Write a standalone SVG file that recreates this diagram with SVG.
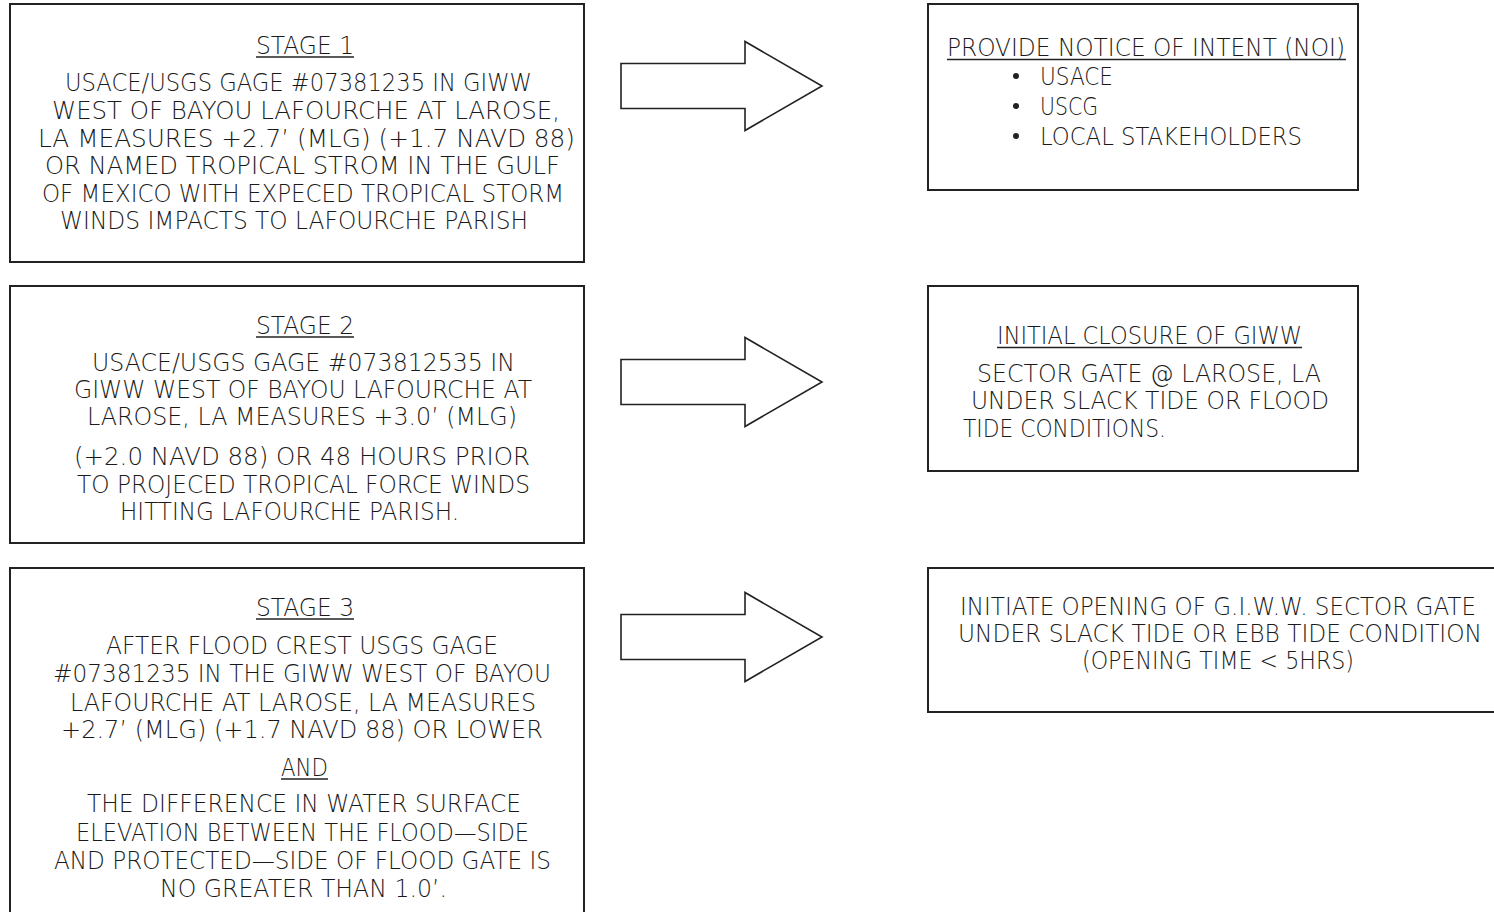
<svg xmlns="http://www.w3.org/2000/svg" width="1494" height="912" viewBox="0 0 1494 912">
<style>
.box{fill:#fff;stroke:#222;stroke-width:2}
.arr{fill:#fff;stroke:#222;stroke-width:1.6;stroke-linejoin:miter}
.t{font-family:"DejaVu Sans","Liberation Sans",Arial,sans-serif;font-weight:200;font-size:24px;fill:#1a1a1a}
.ul{stroke:#222;stroke-width:1.4}
.dot{fill:#222}
</style>
<rect width="1494" height="912" fill="#fff"/>
<g id="stage1">
<rect class="box" x="10" y="4" width="574" height="258"/>
<text class="t" x="256" y="53.5" textLength="98" lengthAdjust="spacingAndGlyphs">STAGE 1</text>
<line class="ul" x1="256" y1="57" x2="354" y2="57"/>
<text class="t" x="65" y="90.5" textLength="467" lengthAdjust="spacingAndGlyphs">USACE/USGS GAGE #07381235 IN GIWW</text>
<text class="t" x="52" y="118.5" textLength="508" lengthAdjust="spacingAndGlyphs">WEST OF BAYOU LAFOURCHE AT LAROSE,</text>
<text class="t" x="38" y="146.5" textLength="537" lengthAdjust="spacingAndGlyphs">LA MEASURES +2.7’ (MLG) (+1.7 NAVD 88)</text>
<text class="t" x="45" y="174" textLength="515" lengthAdjust="spacingAndGlyphs">OR NAMED TROPICAL STROM IN THE GULF</text>
<text class="t" x="42" y="201.5" textLength="522" lengthAdjust="spacingAndGlyphs">OF MEXICO WITH EXPECED TROPICAL STORM</text>
<text class="t" x="60" y="229" textLength="468" lengthAdjust="spacingAndGlyphs">WINDS IMPACTS TO LAFOURCHE PARISH</text>
</g>
<g id="stage2">
<rect class="box" x="10" y="286" width="574" height="257"/>
<text class="t" x="256" y="333.5" textLength="98" lengthAdjust="spacingAndGlyphs">STAGE 2</text>
<line class="ul" x1="256" y1="337" x2="354" y2="337"/>
<text class="t" x="92" y="371" textLength="423" lengthAdjust="spacingAndGlyphs">USACE/USGS GAGE #073812535 IN</text>
<text class="t" x="74" y="398" textLength="458" lengthAdjust="spacingAndGlyphs">GIWW WEST OF BAYOU LAFOURCHE AT</text>
<text class="t" x="87" y="425" textLength="430" lengthAdjust="spacingAndGlyphs">LAROSE, LA MEASURES +3.0’ (MLG)</text>
<text class="t" x="74" y="465" textLength="456" lengthAdjust="spacingAndGlyphs">(+2.0 NAVD 88) OR 48 HOURS PRIOR</text>
<text class="t" x="77" y="493" textLength="453" lengthAdjust="spacingAndGlyphs">TO PROJECED TROPICAL FORCE WINDS</text>
<text class="t" x="120" y="520" textLength="339" lengthAdjust="spacingAndGlyphs">HITTING LAFOURCHE PARISH.</text>
</g>
<g id="stage3">
<rect class="box" x="10" y="568" width="574" height="360"/>
<text class="t" x="256" y="615.5" textLength="98" lengthAdjust="spacingAndGlyphs">STAGE 3</text>
<line class="ul" x1="256" y1="619" x2="354" y2="619"/>
<text class="t" x="106" y="654" textLength="392" lengthAdjust="spacingAndGlyphs">AFTER FLOOD CREST USGS GAGE</text>
<text class="t" x="53" y="682" textLength="498" lengthAdjust="spacingAndGlyphs">#07381235 IN THE GIWW WEST OF BAYOU</text>
<text class="t" x="70" y="710.5" textLength="466" lengthAdjust="spacingAndGlyphs">LAFOURCHE AT LAROSE, LA MEASURES</text>
<text class="t" x="61" y="737.5" textLength="482" lengthAdjust="spacingAndGlyphs">+2.7’ (MLG) (+1.7 NAVD 88) OR LOWER</text>
<text class="t" x="281" y="775.5" textLength="47" lengthAdjust="spacingAndGlyphs">AND</text>
<line class="ul" x1="281" y1="779" x2="328" y2="779"/>
<text class="t" x="87" y="812" textLength="434" lengthAdjust="spacingAndGlyphs">THE DIFFERENCE IN WATER SURFACE</text>
<text class="t" x="76" y="840.5" textLength="453" lengthAdjust="spacingAndGlyphs">ELEVATION BETWEEN THE FLOOD—SIDE</text>
<text class="t" x="54" y="868.5" textLength="497" lengthAdjust="spacingAndGlyphs">AND PROTECTED—SIDE OF FLOOD GATE IS</text>
<text class="t" x="160" y="896.5" textLength="287" lengthAdjust="spacingAndGlyphs">NO GREATER THAN 1.0’.</text>
</g>
<g id="notice">
<rect class="box" x="928" y="4" width="430" height="186"/>
<text class="t" x="947" y="56" textLength="398" lengthAdjust="spacingAndGlyphs">PROVIDE NOTICE OF INTENT (NOI)</text>
<line class="ul" x1="947" y1="59.5" x2="1346" y2="59.5"/>
<circle class="dot" cx="1016" cy="76" r="3"/>
<text class="t" x="1040" y="84.5" textLength="73" lengthAdjust="spacingAndGlyphs">USACE</text>
<circle class="dot" cx="1016" cy="106" r="3"/>
<text class="t" x="1040" y="114.5" textLength="58" lengthAdjust="spacingAndGlyphs">USCG</text>
<circle class="dot" cx="1016" cy="136" r="3"/>
<text class="t" x="1040" y="144.5" textLength="262" lengthAdjust="spacingAndGlyphs">LOCAL STAKEHOLDERS</text>
</g>
<g id="closure">
<rect class="box" x="928" y="286" width="430" height="185"/>
<text class="t" x="997" y="344" textLength="305" lengthAdjust="spacingAndGlyphs">INITIAL CLOSURE OF GIWW</text>
<line class="ul" x1="997" y1="347.5" x2="1302" y2="347.5"/>
<text class="t" x="977" y="381.5" textLength="344" lengthAdjust="spacingAndGlyphs">SECTOR GATE @ LAROSE, LA</text>
<text class="t" x="971" y="409" textLength="358" lengthAdjust="spacingAndGlyphs">UNDER SLACK TIDE OR FLOOD</text>
<text class="t" x="963" y="437" textLength="203" lengthAdjust="spacingAndGlyphs">TIDE CONDITIONS.</text>
</g>
<g id="opening">
<path class="box" d="M1496,568 H928 V712 H1496"/>
<text class="t" transform="translate(960,615) scale(0.8,1)" x="0" y="0" textLength="645" lengthAdjust="spacingAndGlyphs">INITIATE OPENING OF G.I.W.W. SECTOR GATE</text>
<text class="t" transform="translate(958,642) scale(0.8,1)" x="0" y="0" textLength="655" lengthAdjust="spacingAndGlyphs">UNDER SLACK TIDE OR EBB TIDE CONDITION</text>
<text class="t" x="1082" y="669" textLength="272" lengthAdjust="spacingAndGlyphs">(OPENING TIME &lt; 5HRS)</text>
</g>
<g id="connectors">
<path class="arr" d="M621,63.5 H745 V41.5 L822,86 L745,130.5 V108.5 H621 Z"/>
<path class="arr" d="M621,359.5 H745 V337.5 L822,382 L745,426.5 V404.5 H621 Z"/>
<path class="arr" d="M621,614.5 H745 V592.5 L822,637 L745,681.5 V659.5 H621 Z"/>
</g>
</svg>
